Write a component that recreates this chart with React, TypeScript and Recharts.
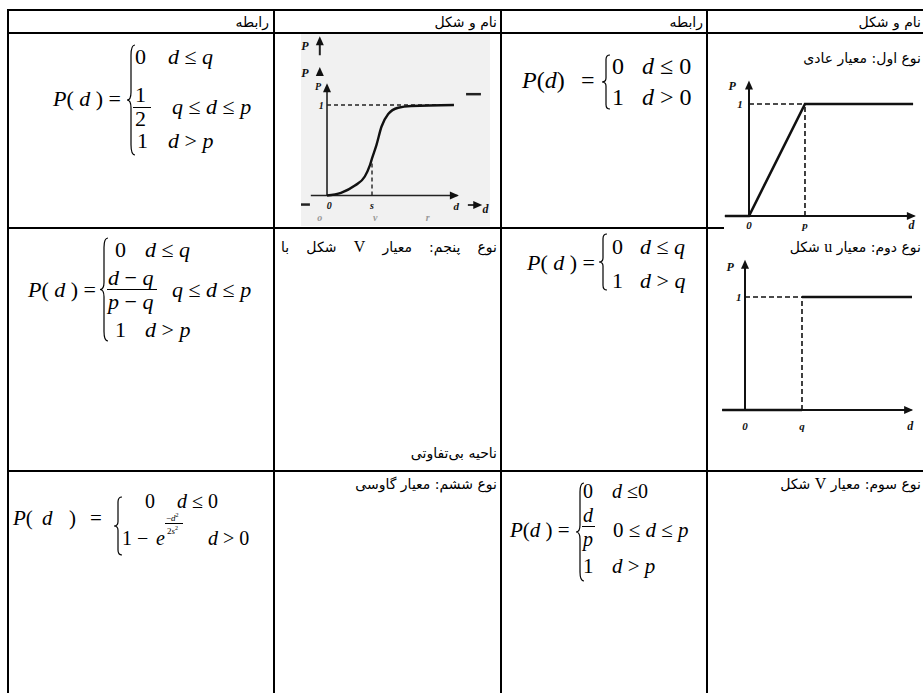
import React from 'react';
import { LineChart, Line, XAxis, YAxis, ReferenceLine, ReferenceDot } from 'recharts';

// نوع اول: معیار عادی  (P rises linearly from 0 to p, then stays at 1)
const normD = [-0.43, 0, 1, 2.93];
const normP = [0, 0, 1, 1];
const normTicks = ['0', 'p', 'd'];

// نوع دوم: معیار u شکل  (step at q)
const stepD = [-0.4, 1, 1, 2.93];
const stepLow = [0, 0, null, null];
const stepHigh = [null, null, 1, 1];
const stepTicks = ['0', 'q', 'd'];

// scanned s-curve figure
const gaussD = [0, 0.31, 0.62, 0.84, 0.95, 1.0, 1.1, 1.21, 1.36, 1.58, 1.87, 2.82];
const gaussP = [0, 0.03, 0.11, 0.21, 0.33, 0.41, 0.56, 0.76, 0.9, 0.97, 0.99, 1.0];
const gaussTicks = ['0', 's', 'd'];
const gaussGhostTicks = ['o', 'v', 'r'];

const headers = ['رابطه', 'نام و شکل'];

const normData = normD.map((d, i) => ({ d, P: normP[i] }));
const stepData = stepD.map((d, i) => ({ d, low: stepLow[i], high: stepHigh[i] }));
const gaussData = gaussD.map((d, i) => ({ d, P: gaussP[i] }));

const SERIF = "'Liberation Serif', 'Times New Roman', serif";
const FA = "'DejaVu Sans', sans-serif";

const arrowRight = (p: any) => <path d={`M${p.cx},${p.cy} l-9,-4 l0,8 z`} fill="#111" />;
const arrowUp = (p: any) => <path d={`M${p.cx},${p.cy} l-4,9 l8,0 z`} fill="#111" />;
const tag = (text: string, size = 11, color = '#111') => (p: any) => (
  <text
    x={p.cx}
    y={p.cy}
    textAnchor="middle"
    dominantBaseline="central"
    fontFamily={SERIF}
    fontStyle="italic"
    fontWeight="bold"
    fontSize={size}
    fill={color}
  >
    {text}
  </text>
);

const dash = { stroke: '#111', strokeWidth: 1.6, strokeDasharray: '5 3' };
const axis = { stroke: '#111', strokeWidth: 2 };

function NormChart() {
  return (
    <LineChart width={199} height={166} data={normData} margin={{ top: 0, right: 0, bottom: 0, left: 0 }}>
      <XAxis type="number" dataKey="d" domain={[-0.446, 3.107]} hide allowDataOverflow />
      <YAxis type="number" domain={[-0.161, 1.321]} hide allowDataOverflow />
      <ReferenceLine segment={[{ x: -0.43, y: 0 }, { x: 2.95, y: 0 }]} {...axis} />
      <ReferenceLine segment={[{ x: 0, y: 0 }, { x: 0, y: 1.17 }]} {...axis} />
      <ReferenceLine segment={[{ x: 0, y: 1 }, { x: 1, y: 1 }]} {...dash} />
      <ReferenceLine segment={[{ x: 1, y: 0 }, { x: 1, y: 1 }]} {...dash} />
      <Line type="linear" dataKey="P" stroke="#111" strokeWidth={2.6} dot={false} isAnimationActive={false} />
      <ReferenceDot x={2.98} y={0} ifOverflow="visible" shape={arrowRight} />
      <ReferenceDot x={0} y={1.21} ifOverflow="visible" shape={arrowUp} />
      <ReferenceDot x={-0.3} y={1.16} ifOverflow="visible" shape={tag('P', 12)} />
      <ReferenceDot x={-0.16} y={1} ifOverflow="visible" shape={tag('1')} />
      <ReferenceDot x={0} y={-0.08} ifOverflow="visible" shape={tag(normTicks[0])} />
      <ReferenceDot x={1} y={-0.08} ifOverflow="visible" shape={tag(normTicks[1])} />
      <ReferenceDot x={2.9} y={-0.085} ifOverflow="visible" shape={tag(normTicks[2], 12)} />
    </LineChart>
  );
}

function StepChart() {
  return (
    <LineChart width={211} height={184} data={stepData} margin={{ top: 0, right: 0, bottom: 0, left: 0 }}>
      <XAxis type="number" dataKey="d" domain={[-0.579, 3.123]} hide allowDataOverflow />
      <YAxis type="number" domain={[-0.265, 1.363]} hide allowDataOverflow />
      <ReferenceLine segment={[{ x: -0.4, y: 0 }, { x: 2.92, y: 0 }]} {...axis} />
      <ReferenceLine segment={[{ x: 0, y: 0 }, { x: 0, y: 1.28 }]} {...axis} />
      <ReferenceLine segment={[{ x: 0, y: 1 }, { x: 1, y: 1 }]} {...dash} />
      <ReferenceLine segment={[{ x: 1, y: 0 }, { x: 1, y: 1 }]} {...dash} />
      <Line type="linear" dataKey="low" stroke="#111" strokeWidth={2.6} dot={false} isAnimationActive={false} />
      <Line type="linear" dataKey="high" stroke="#111" strokeWidth={2.6} dot={false} isAnimationActive={false} />
      <ReferenceDot x={2.95} y={0} ifOverflow="visible" shape={arrowRight} />
      <ReferenceDot x={0} y={1.33} ifOverflow="visible" shape={arrowUp} />
      <ReferenceDot x={-0.26} y={1.27} ifOverflow="visible" shape={tag('P', 12)} />
      <ReferenceDot x={-0.11} y={1} ifOverflow="visible" shape={tag('1')} />
      <ReferenceDot x={0} y={-0.14} ifOverflow="visible" shape={tag(stepTicks[0])} />
      <ReferenceDot x={1} y={-0.14} ifOverflow="visible" shape={tag(stepTicks[1])} />
      <ReferenceDot x={2.9} y={-0.14} ifOverflow="visible" shape={tag(stepTicks[2], 12)} />
    </LineChart>
  );
}

function GaussChart() {
  const thick = { stroke: '#222', strokeWidth: 2.5 };
  return (
    <LineChart width={189} height={192} data={gaussData} margin={{ top: 0, right: 0, bottom: 0, left: 0 }}>
      <XAxis type="number" dataKey="d" domain={[-0.578, 3.622]} hide allowDataOverflow />
      <YAxis type="number" domain={[-0.337, 1.785]} hide allowDataOverflow />
      <ReferenceLine segment={[{ x: -0.36, y: 0 }, { x: 2.9, y: 0 }]} stroke="#222" strokeWidth={1.6} />
      <ReferenceLine segment={[{ x: 0, y: 0 }, { x: 0, y: 1.2 }]} stroke="#222" strokeWidth={1.6} />
      <ReferenceLine segment={[{ x: 0, y: 1 }, { x: 2.82, y: 1 }]} stroke="#222" strokeWidth={1.4} strokeDasharray="4 3" />
      <ReferenceLine segment={[{ x: 1, y: 0 }, { x: 1, y: 0.37 }]} stroke="#222" strokeWidth={1.4} strokeDasharray="4 3" />
      <Line type="monotone" dataKey="P" stroke="#111" strokeWidth={2.4} dot={false} isAnimationActive={false} />
      <ReferenceDot x={2.93} y={0} ifOverflow="visible" shape={arrowRight} />
      <ReferenceDot x={0} y={1.24} ifOverflow="visible" shape={arrowUp} />
      <ReferenceDot x={-0.2} y={1.21} ifOverflow="visible" shape={tag('P', 10)} />
      <ReferenceDot x={-0.49} y={1.35} ifOverflow="visible" shape={tag('P', 12)} />
      <ReferenceDot x={-0.16} y={1.42} ifOverflow="visible" shape={arrowUp} />
      <ReferenceDot x={-0.49} y={1.65} ifOverflow="visible" shape={tag('P', 12)} />
      <ReferenceLine segment={[{ x: -0.16, y: 1.55 }, { x: -0.16, y: 1.7 }]} stroke="#222" strokeWidth={2} />
      <ReferenceDot x={-0.16} y={1.76} ifOverflow="visible" shape={arrowUp} />
      <ReferenceDot x={-0.13} y={1} ifOverflow="visible" shape={tag('1', 10)} />
      <ReferenceDot x={0.05} y={-0.105} ifOverflow="visible" shape={tag(gaussTicks[0], 10)} />
      <ReferenceDot x={1} y={-0.105} ifOverflow="visible" shape={tag(gaussTicks[1], 10)} />
      <ReferenceDot x={2.87} y={-0.12} ifOverflow="visible" shape={tag(gaussTicks[2], 11)} />
      <ReferenceLine segment={[{ x: 3.09, y: 1.12 }, { x: 3.42, y: 1.12 }]} {...thick} />
      <ReferenceLine segment={[{ x: -0.578, y: -0.1 }, { x: -0.38, y: -0.1 }]} {...thick} />
      <ReferenceLine segment={[{ x: 3.13, y: -0.105 }, { x: 3.4, y: -0.105 }]} stroke="#222" strokeWidth={1.8} />
      <ReferenceDot x={3.45} y={-0.105} ifOverflow="visible" shape={arrowRight} />
      <ReferenceDot x={3.52} y={-0.15} ifOverflow="visible" shape={tag('d', 12)} />
      <ReferenceDot x={-0.16} y={-0.245} ifOverflow="visible" shape={tag(gaussGhostTicks[0], 10, '#999')} />
      <ReferenceDot x={1.07} y={-0.245} ifOverflow="visible" shape={tag(gaussGhostTicks[1], 10, '#999')} />
      <ReferenceDot x={2.24} y={-0.245} ifOverflow="visible" shape={tag(gaussGhostTicks[2], 10, '#999')} />
    </LineChart>
  );
}

// math text piece, vertically centred on y
function M({ x, y, s, children }: { x: number; y: number; s: number; children: React.ReactNode }) {
  return (
    <div
      style={{
        position: 'absolute',
        left: x,
        top: y,
        transform: 'translateY(-50%)',
        fontSize: s,
        fontFamily: SERIF,
        lineHeight: 1,
        whiteSpace: 'pre',
      }}
    >
      {children}
    </div>
  );
}

function Bar({ x, y, w }: { x: number; y: number; w: number }) {
  return <div style={{ position: 'absolute', left: x, top: y, width: w, height: 1, background: '#000' }} />;
}

function Brace({ x, y, h }: { x: number; y: number; h: number }) {
  const w = 10;
  return (
    <svg width={w} height={h} style={{ position: 'absolute', left: x, top: y }}>
      <path
        d={`M${w - 1},1 Q${w / 2},1 ${w / 2},${h * 0.1} L${w / 2},${h * 0.43} Q${w / 2},${h / 2} 1,${h / 2} Q${w / 2},${h / 2} ${w / 2},${h * 0.57} L${w / 2},${h * 0.9} Q${w / 2},${h - 1} ${w - 1},${h - 1}`}
        fill="none"
        stroke="#000"
        strokeWidth={1.2}
      />
    </svg>
  );
}

function Fa({ r, y, children }: { r: number; y: number; children: React.ReactNode }) {
  return (
    <div
      style={{
        position: 'absolute',
        right: r,
        top: y,
        transform: 'translateY(-50%)',
        direction: 'rtl',
        fontFamily: FA,
        fontSize: 14,
        lineHeight: 1.2,
        whiteSpace: 'nowrap',
        zIndex: 2,
      }}
    >
      {children}
    </div>
  );
}

const latin = (t: string) => <span style={{ fontFamily: SERIF, fontSize: 16 }}>{t}</span>;

function HLine({ y }: { y: number }) {
  return <div style={{ position: 'absolute', left: 7, top: y - 1, width: 930, height: 2, background: '#000' }} />;
}
function VLine({ x }: { x: number }) {
  return <div style={{ position: 'absolute', left: x - 1, top: 9, width: 2, height: 700, background: '#000' }} />;
}

const I = ({ children }: { children: React.ReactNode }) => <i>{children}</i>;

export default function App() {
  return (
    <div style={{ position: 'relative', width: 923, height: 693, background: '#fff', overflow: 'hidden' }}>
      <style>{'body{margin:0}'}</style>

      {[10, 33, 228, 471].map((y) => (
        <HLine key={y} y={y} />
      ))}
      {[8, 274, 501, 707].map((x) => (
        <VLine key={x} x={x} />
      ))}

      {/* header */}
      <Fa r={654} y={22}>{headers[0]}</Fa>
      <Fa r={426} y={22}>{headers[1]}</Fa>
      <Fa r={220} y={22}>{headers[0]}</Fa>
      <Fa r={2} y={22}>{headers[1]}</Fa>

      {/* row 1 */}
      <Fa r={2} y={58}>نوع اول: معیار عادی</Fa>
      <div style={{ position: 'absolute', left: 724, top: 68, background: '#fff' }}>
        <NormChart />
      </div>
      <div style={{ position: 'absolute', left: 301, top: 34, background: '#f1f1f1' }}>
        <GaussChart />
      </div>

      <M x={53} y={99} s={22}>
        <I>P</I>( <I>d</I> ) =
      </M>
      <Brace x={126} y={44} h={112} />
      <M x={135} y={57} s={22}>0</M>
      <M x={168} y={57} s={22}>
        <I>d</I> ≤ <I>q</I>
      </M>
      <M x={135} y={95} s={22}>1</M>
      <Bar x={133} y={107} w={18} />
      <M x={135} y={119} s={22}>2</M>
      <M x={172} y={107} s={22}>
        <I>q</I> ≤ <I>d</I> ≤ <I>p</I>
      </M>
      <M x={137} y={141} s={22}>1</M>
      <M x={168} y={141} s={22}>
        <I>d</I> &gt; <I>p</I>
      </M>

      <M x={522} y={80} s={24}>
        <I>P</I>(<I>d</I>)
      </M>
      <M x={581} y={80} s={24}>=</M>
      <Brace x={601} y={54} h={56} />
      <M x={612} y={66} s={24}>0</M>
      <M x={642} y={66} s={24}>
        <I>d</I> ≤ 0
      </M>
      <M x={612} y={97} s={24}>1</M>
      <M x={642} y={97} s={24}>
        <I>d</I> &gt; 0
      </M>

      {/* row 2 */}
      <Fa r={2} y={247}>
        نوع دوم: معیار {latin('u')} شکل
      </Fa>
      <div style={{ position: 'absolute', left: 712, top: 256, background: '#fff' }}>
        <StepChart />
      </div>
      <div
        style={{
          position: 'absolute',
          left: 281,
          width: 216,
          top: 247,
          transform: 'translateY(-50%)',
          direction: 'rtl',
          fontFamily: FA,
          fontSize: 14,
          lineHeight: 1.2,
          textAlign: 'justify',
          textAlignLast: 'justify',
        }}
      >
        نوع پنجم: معیار {latin('V')} شکل با
      </div>
      <Fa r={426} y={453}>ناحیه بی‌تفاوتی</Fa>

      <M x={527} y={263} s={22}>
        <I>P</I>( <I>d</I> ) =
      </M>
      <Brace x={598} y={233} h={58} />
      <M x={612} y={247} s={22}>0</M>
      <M x={640} y={247} s={22}>
        <I>d</I> ≤ <I>q</I>
      </M>
      <M x={612} y={281} s={22}>1</M>
      <M x={640} y={281} s={22}>
        <I>d</I> &gt; <I>q</I>
      </M>

      <M x={28} y={290} s={22}>
        <I>P</I>( <I>d</I> ) =
      </M>
      <Brace x={99} y={237} h={105} />
      <M x={115} y={250} s={22}>0</M>
      <M x={145} y={250} s={22}>
        <I>d</I> ≤ <I>q</I>
      </M>
      <M x={108} y={278} s={22}>
        <I>d</I> − <I>q</I>
      </M>
      <Bar x={107} y={289} w={50} />
      <M x={108} y={302} s={22}>
        <I>p</I> − <I>q</I>
      </M>
      <M x={172} y={290} s={22}>
        <I>q</I> ≤ <I>d</I> ≤ <I>p</I>
      </M>
      <M x={115} y={330} s={22}>1</M>
      <M x={145} y={330} s={22}>
        <I>d</I> &gt; <I>p</I>
      </M>

      {/* row 3 */}
      <Fa r={2} y={484}>
        نوع سوم: معیار {latin('V')} شکل
      </Fa>
      <Fa r={426} y={484}>نوع ششم: معیار گاوسی</Fa>

      <M x={13} y={518} s={21}>
        <I>P</I>(
      </M>
      <M x={42} y={518} s={21}>
        <I>d</I>
      </M>
      <M x={69} y={518} s={21}>)</M>
      <M x={90} y={518} s={21}>=</M>
      <Brace x={113} y={496} h={60} />
      <M x={145} y={501} s={20}>0</M>
      <M x={177} y={501} s={20}>
        <I>d</I> ≤ 0
      </M>
      <M x={122} y={538} s={20}>1</M>
      <M x={137} y={538} s={20}>−</M>
      <M x={156} y={538} s={20}>
        <I>e</I>
      </M>
      <M x={166} y={517} s={9}>
        −<I>d</I>
        <sup style={{ fontSize: 6 }}>2</sup>
      </M>
      <Bar x={165} y={523} w={18} />
      <M x={167} y={530} s={9}>
        2<I>s</I>
        <sup style={{ fontSize: 6 }}>2</sup>
      </M>
      <M x={208} y={538} s={20}>
        <I>d</I> &gt; 0
      </M>

      <M x={510} y={530} s={21}>
        <I>P</I>(<I>d</I> ) =
      </M>
      <Brace x={575} y={482} h={100} />
      <M x={583} y={491} s={20}>0</M>
      <M x={612} y={491} s={20}>
        <I>d</I> ≤0
      </M>
      <M x={583} y={515} s={20}>
        <I>d</I>
      </M>
      <Bar x={582} y={526} w={13} />
      <M x={583} y={539} s={20}>
        <I>p</I>
      </M>
      <M x={613} y={530} s={21}>
        0 ≤ <I>d</I> ≤ <I>p</I>
      </M>
      <M x={583} y={566} s={21}>1</M>
      <M x={612} y={566} s={21}>
        <I>d</I> &gt; <I>p</I>
      </M>
    </div>
  );
}
